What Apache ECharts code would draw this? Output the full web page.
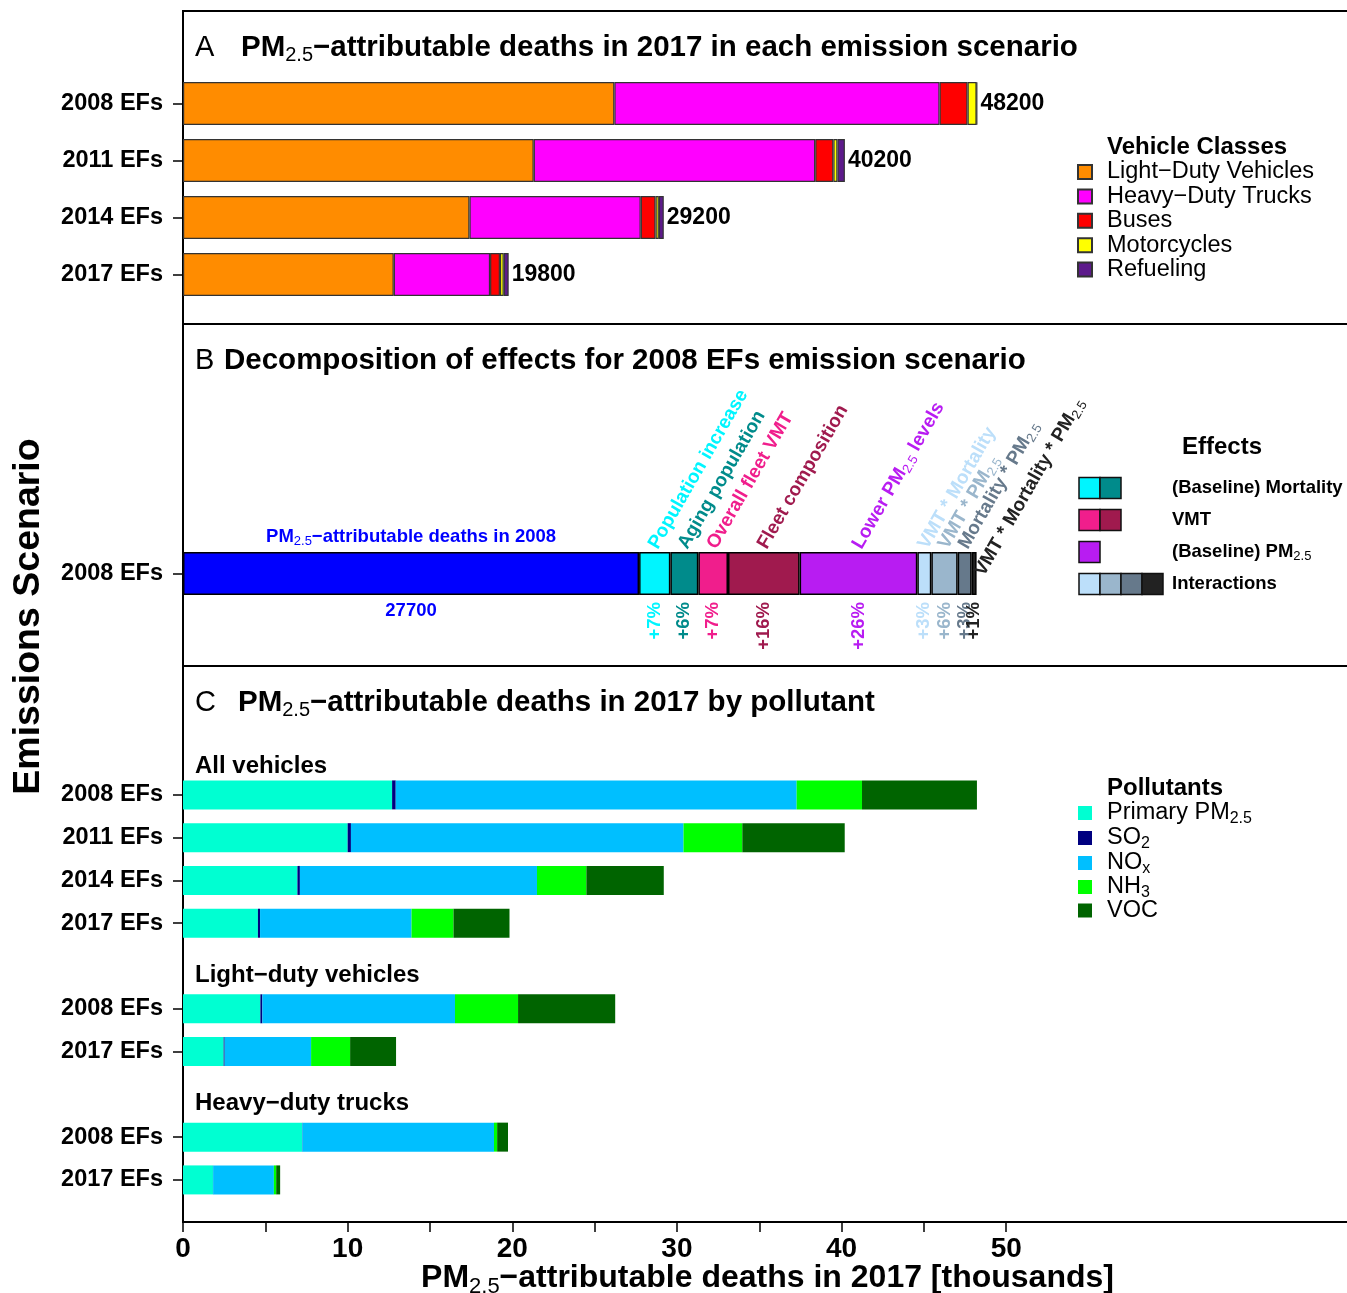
<!DOCTYPE html>
<html>
<head>
<meta charset="utf-8">
<script src="https://cdn.jsdelivr.net/npm/echarts@6.0.0/dist/echarts.min.js"></script>
<style>
  html, body { margin: 0; padding: 0; background: #fff; }
  #chart { width: 1347px; height: 1293px; }
</style>
</head>
<body>
<div id="chart"></div>
<script>
// ---- data (thousands of deaths) ----
const scenariosA = ['2008 EFs', '2011 EFs', '2014 EFs', '2017 EFs']
const vehicleClasses = ['Light−Duty Vehicles', 'Heavy−Duty Trucks', 'Buses', 'Motorcycles', 'Refueling']
const ldv = [26.2, 21.3, 17.4, 12.8]
const hdt = [19.75, 17.1, 10.4, 5.85]
const buses = [1.7, 1.1, 0.9, 0.6]
const motorcycles = [0.55, 0.25, 0.2, 0.23]
const refueling = [0.03, 0.45, 0.3, 0.3]
const totalsA = [48200, 40200, 29200, 19800]

const effectNames = ['PM2.5−attributable deaths in 2008', 'Population increase', 'Aging population',
  'Overall fleet VMT', 'Fleet composition', 'Lower PM2.5 levels', 'VMT * Mortality', 'VMT * PM2.5',
  'Mortality * PM2.5', 'VMT * Mortality * PM2.5']
const effectValues = [27.7, 1.9, 1.7, 1.8, 4.35, 7.15, 0.85, 1.6, 0.85, 0.3]
const effectNotes = ['27700', '+7%', '+6%', '+7%', '+16%', '+26%', '+3%', '+6%', '+3%', '+1%']
const effectGroups = [
  { label: '(Baseline) Mortality', members: [1, 2] },
  { label: 'VMT', members: [3, 4] },
  { label: '(Baseline) PM2.5', members: [5] },
  { label: 'Interactions', members: [6, 7, 8, 9] }
]

const rowsC = ['2008 EFs', '2011 EFs', '2014 EFs', '2017 EFs', '', '2008 EFs', '2017 EFs', '', '2008 EFs', '2017 EFs']
const groupHeaders = ['All vehicles', 'Light−duty vehicles', 'Heavy−duty trucks']
const pollutants = ['Primary PM2.5', 'SO2', 'NOx', 'NH3', 'VOC']
const primaryPM = [12.7, 10.0, 6.95, 4.55, '-', 4.7, 2.47, '-', 7.23, 1.82]
const so2 = [0.22, 0.2, 0.15, 0.13, '-', 0.12, 0.06, '-', 0.02, 0.01]
const nox = [24.35, 20.2, 14.4, 9.2, '-', 11.7, 5.25, '-', 11.64, 3.69]
const nh3 = [3.97, 3.57, 3.0, 2.55, '-', 3.83, 2.37, '-', 0.19, 0.14]
const voc = [6.98, 6.22, 4.7, 3.4, '-', 5.9, 2.79, '-', 0.66, 0.24]

const xTicks = [0, 5, 10, 15, 20, 25, 30, 35, 40, 45, 50]
const xLabels = [0, 10, 20, 30, 40, 50]

// ---- styles ----
const FONT = '"Liberation Sans", Arial, Helvetica, sans-serif'
const vehicleColors = ['#FF8C00', '#FF00FF', '#FF0000', '#FFFF00', '#5D1A8B']
const effectColors = ['#0000FF', '#00F5FF', '#008B8B', '#F01E8C', '#A01A4E', '#B81CF2',
  '#BCDFFA', '#9AB6CC', '#66798B', '#222222']
const pollutantColors = ['#00FFD2', '#000080', '#00BFFF', '#00FF00', '#006400']
const XMAX = 71
const GL = 183, GR = -5

const subText = (s) => s.replace(/PM2\.5/g, 'PM{s|2.5}')
  .replace(/^SO2$/, 'SO{s|2}').replace(/^NOx$/, 'NO{s|x}').replace(/^NH3$/, 'NH{s|3}')

const subStyle = (size, color = '#000', lh) => ({
  fontSize: Math.round(size * 0.68), fontWeight: 'normal', color, fontFamily: FONT,
  lineHeight: lh || Math.round(size * 1.15), padding: [Math.round(size * 0.5), 0, 0, 0]
})

const catAxis = (gridIndex, data) => ({
  gridIndex, type: 'category', data, inverse: true,
  axisLine: { show: false },
  axisTick: { show: true, alignWithLabel: true, length: 10, lineStyle: { color: '#000', width: 1.5 },
    interval: (i, v) => v !== '' },
  axisLabel: { interval: 0, margin: 20, fontSize: 23.5, fontWeight: 'bold', color: '#000', fontFamily: FONT },
  splitLine: { show: false }
})
const hiddenX = (gridIndex) => ({ gridIndex, type: 'value', min: 0, max: XMAX, show: false })

// ---- series ----
const seriesA = [ldv, hdt, buses, motorcycles, refueling].map((d, i) => ({
  type: 'bar', name: vehicleClasses[i], xAxisIndex: 1, yAxisIndex: 1, stack: 'a', barWidth: 43,
  data: d, silent: true,
  itemStyle: { color: vehicleColors[i], borderColor: '#333', borderWidth: 1.2 },
  label: i === 4 ? {
    show: true, position: 'right', distance: 3, color: '#000', fontSize: 23, fontWeight: 'bold',
    fontFamily: FONT, formatter: (p) => totalsA[p.dataIndex]
  } : { show: false }
}))

const seriesB = effectValues.map((v, i) => {
  const label = i === 0 ? {
    show: true, position: 'top', distance: 5, color: effectColors[0], fontSize: 18.5, fontWeight: 'bold',
    fontFamily: FONT, lineHeight: 21, formatter: subText(effectNames[0]),
    rich: { s: subStyle(18.5, effectColors[0]) }
  } : {
    show: true, position: 'top', distance: 2, rotate: 60, align: 'left', verticalAlign: 'bottom',
    color: effectColors[i], fontSize: 19, fontWeight: 'bold', fontFamily: FONT, lineHeight: 22,
    formatter: subText(effectNames[i]), rich: { s: subStyle(19, effectColors[i], 22) },
    offset: i === 9 ? [-18.7, 27.6] : [1.4, 8.4]
  }
  return {
    type: 'bar', name: effectNames[i], xAxisIndex: 2, yAxisIndex: 2, stack: 'b', barWidth: 43,
    data: [v], silent: true,
    itemStyle: { color: effectColors[i], borderColor: '#000', borderWidth: 1.5 },
    label
  }
})

// midpoints of the effect segments for the notes under the bar
let acc = 0
const effectMids = effectValues.map((v) => { const m = acc + v / 2; acc += v; return m })
const noteLabel = (i) => Object.assign({
  show: true, position: 'bottom', formatter: effectNotes[i], color: effectColors[i], opacity: 1,
  fontSize: 18.5, fontWeight: 'bold', fontFamily: FONT
}, i === 0
  ? { distance: 27, align: 'center', verticalAlign: 'top' }
  : { distance: 28, rotate: 90, align: 'right', verticalAlign: 'middle' })
const notesB = {
  type: 'scatter', xAxisIndex: 2, yAxisIndex: 2, symbolSize: 1, silent: true,
  itemStyle: { color: 'rgba(0,0,0,0)', opacity: 1 },
  data: effectMids.map((m, i) => ({ value: [m, 0], label: noteLabel(i) }))
}

const seriesC = [primaryPM, so2, nox, nh3, voc].map((d, i) => ({
  type: 'bar', name: pollutants[i], xAxisIndex: 3, yAxisIndex: 3, stack: 'c', barWidth: 29,
  data: d, silent: true, itemStyle: { color: pollutantColors[i] }
}))

// ---- graphics: titles, headers, separators, effects legend ----
const txt = (x, y, text, size, weight, extra = {}) => ({
  type: 'text', x, y, silent: true,
  style: Object.assign({ text, fontSize: size, fontWeight: weight, fontFamily: FONT, fill: '#000',
    verticalAlign: 'middle', align: 'left', lineHeight: Math.round(size * 1.15),
    rich: { s: subStyle(size) } }, extra)
})

const graphics = [
  { type: 'line', silent: true, shape: { x1: GL, y1: 324, x2: 1347, y2: 324 }, style: { stroke: '#000', lineWidth: 2 } },
  { type: 'line', silent: true, shape: { x1: GL, y1: 666, x2: 1347, y2: 666 }, style: { stroke: '#000', lineWidth: 2 } },
  txt(195, 48, 'A', 29, 'normal'),
  txt(241, 48, subText('PM2.5−attributable deaths in 2017 in each emission scenario'), 29.5, 'bold'),
  txt(195, 361, 'B', 29, 'normal'),
  txt(224, 361, 'Decomposition of effects for 2008 EFs emission scenario', 29.5, 'bold'),
  txt(195, 703, 'C', 29, 'normal'),
  txt(238, 703, subText('PM2.5−attributable deaths in 2017 by pollutant'), 29.5, 'bold'),
  txt(195, 766, groupHeaders[0], 24, 'bold'),
  txt(195, 975, groupHeaders[1], 24, 'bold'),
  txt(195, 1103, groupHeaders[2], 24, 'bold'),
  txt(1107, 147, 'Vehicle Classes', 24, 'bold'),
  txt(1107, 788, 'Pollutants', 24, 'bold'),
  txt(1222, 447, 'Effects', 24, 'bold', { align: 'center' })
]
effectGroups.forEach((g, r) => {
  const cy = 488 + r * 32
  g.members.forEach((m, k) => {
    graphics.push({ type: 'rect', silent: true, shape: { x: 1079 + k * 21, y: cy - 10.5, width: 21, height: 21 },
      style: { fill: effectColors[m], stroke: '#111', lineWidth: 1.5 } })
  })
  graphics.push(txt(1172, cy, subText(g.label), 18.5, 'bold'))
})

const legendBase = {
  orient: 'vertical', padding: 0, itemWidth: 14, itemHeight: 14, itemGap: 0.4, icon: 'rect',
  selectedMode: false,
  textStyle: { fontSize: 23.5, color: '#000', fontFamily: FONT, lineHeight: 20, padding: [0, 0, 0, 10],
    rich: { s: subStyle(23.5, '#000', 20) } }
}
// one legend row per pollutant so rows with subscripts keep an even spacing
const pollutantLegendTops = [799, 824, 849, 873, 898.5]
const pollutantLegends = pollutants.map((p, i) => Object.assign({}, legendBase, {
  data: [p], left: 1078, top: pollutantLegendTops[i], formatter: (n) => subText(n)
}))

const option = {
  animation: false,
  backgroundColor: '#fff',
  grid: [
    { left: GL, right: GR, top: 11, bottom: 71, show: true, borderColor: '#000', borderWidth: 2, outerBoundsMode: 'none' },
    { left: GL, right: GR, top: 75, height: 228, outerBoundsMode: 'none' },
    { left: GL, right: GR, top: 529.5, height: 88, outerBoundsMode: 'none' },
    { left: GL, right: GR, top: 773.5, height: 427.8, outerBoundsMode: 'none' }
  ],
  xAxis: [
    {
      gridIndex: 0, type: 'value', min: 0, max: XMAX,
      axisLine: { show: true, lineStyle: { color: '#000', width: 2 } },
      axisTick: { show: true, length: 10, customValues: xTicks, lineStyle: { color: '#000', width: 1.5 } },
      axisLabel: { customValues: xLabels, margin: 13, fontSize: 28, fontWeight: 'bold', color: '#000', fontFamily: FONT },
      splitLine: { show: false },
      name: subText('PM2.5−attributable deaths in 2017 [thousands]'),
      nameLocation: 'middle', nameGap: 39, nameMoveOverlap: false,
      nameTextStyle: { fontSize: 32, fontWeight: 'bold', color: '#000', fontFamily: FONT, lineHeight: 35,
        rich: { s: subStyle(32, '#000', 35) } }
    },
    hiddenX(1), hiddenX(2), hiddenX(3)
  ],
  yAxis: [
    {
      gridIndex: 0, type: 'value', min: 0, max: 1,
      axisLine: { show: true, lineStyle: { color: '#000', width: 2 } },
      axisTick: { show: false }, axisLabel: { show: false }, splitLine: { show: false },
      name: 'Emissions Scenario', nameLocation: 'middle', nameRotate: 90, nameGap: 135, nameMoveOverlap: false,
      nameTextStyle: { fontSize: 37.5, fontWeight: 'bold', color: '#000', fontFamily: FONT }
    },
    catAxis(1, scenariosA),
    catAxis(2, ['2008 EFs']),
    catAxis(3, rowsC)
  ],
  legend: [
    Object.assign({}, legendBase, { data: vehicleClasses, left: 1077, top: 160 }),
    ...pollutantLegends
  ],
  graphic: graphics,
  series: [...seriesA, ...seriesB, notesB, ...seriesC]
}

const chart = echarts.init(document.getElementById('chart'), null, { renderer: 'canvas' })
chart.setOption(option)
</script>
</body>
</html>
